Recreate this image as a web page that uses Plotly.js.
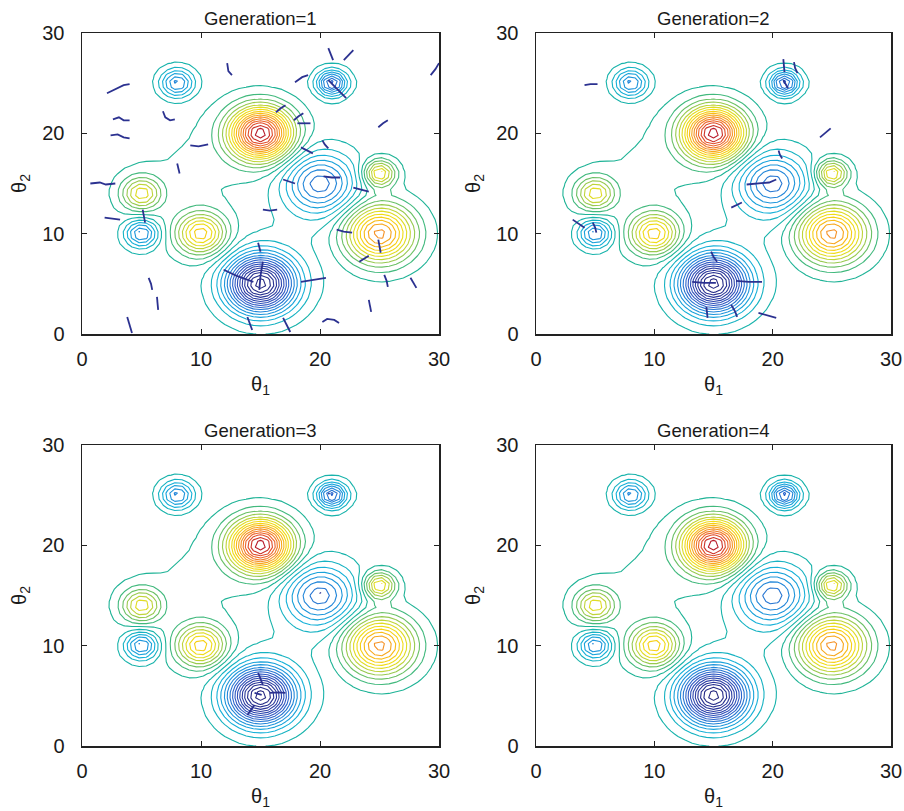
<!DOCTYPE html>
<html>
<head>
<meta charset="utf-8">
<script src="https://cdn.plot.ly/plotly-3.0.1.min.js"></script>
<style>html,body{margin:0;padding:0;background:#fff;}#chart{width:904px;height:811px;}</style>
</head>
<body>
<div id="chart"></div>
<script>
// ---- Surface: bumps (centre, height, spread) ----
const bumpX      = [15, 25, 10, 5, 25, 15, 20, 5, 8, 21, 10, 18];
const bumpY      = [20, 10, 10, 14, 16, 5, 15, 10, 25, 25, 16, 10];
const bumpHeight = [16, 11, 8, 6, 7, -16, -7, -6, -6, -8, 0.6, -0.5];
const bumpSpread = [1.75, 1.95, 1.4, 1.12, 0.9, 1.9, 2.0, 0.94, 0.95, 0.85, 5, 4];

// ---- Particle tracks per generation (theta1, theta2), null separates tracks ----
const gen1X = [2.1,2.6,3.5,4.0,null, 2.6,3.1,3.5,4.0,null, 2.4,3.0,3.5,4.0,null, 6.8,7.0,7.4,7.8,null,
  12.2,12.3,12.6,null, 9.1,9.8,10.6,null, 8.0,8.1,8.2,null, 0.7,1.5,2.0,2.8,null, 1.9,2.5,3.2,null,
  5.1,5.2,5.3,null, 5.6,5.8,5.9,null, 6.3,6.35,6.4,null, 3.8,4.0,4.2,null, 11.9,13.0,14.4,null,
  13.9,14.1,14.3,null, 15.2,15.0,14.9,null, 16.9,17.4,17.9,null, 22.8,23.4,24.1,null, 15.2,15.8,16.4,null,
  21.4,22.0,22.7,null, 24.9,25.0,25.1,null, 23.3,23.7,24.1,null, 18.4,19.5,20.5,null, 25.4,25.6,25.7,null,
  27.6,27.9,28.1,null, 24.1,24.2,24.3,null, 20.2,20.6,21.2,21.6,null, 16.9,17.2,17.5,null,
  20.7,20.9,21.1,null, 22.0,22.4,22.8,null, 29.3,29.7,30.0,null, 20.7,21.4,22.2,null, 17.9,18.5,19.0,null,
  16.3,16.7,17.1,null, 17.8,18.2,18.6,null, 18.1,18.7,19.2,null, 24.9,25.3,25.7,null, 20.2,20.4,20.7,null,
  18.4,18.9,19.4,null, 20.3,21.0,21.7,null, 14.8,14.9,15.0];
const gen1Y = [24.0,24.3,24.8,24.9,null, 21.4,21.6,21.3,21.3,null, 19.8,19.9,19.6,19.5,null, 22.2,21.6,21.3,21.4,null,
  27.0,26.2,25.8,null, 18.8,18.7,18.9,null, 17.0,16.5,16.0,null, 15.0,15.1,14.9,15.0,null, 11.6,11.5,11.4,null,
  12.4,11.7,11.1,null, 5.6,5.0,4.4,null, 3.7,3.0,2.4,null, 1.7,0.9,0.1,null, 6.4,5.8,5.2,null,
  1.7,1.0,0.4,null, 7.2,5.8,4.4,null, 15.4,15.2,15.0,null, 14.6,14.4,14.2,null, 12.4,12.3,12.4,null,
  10.4,10.2,10.1,null, 9.4,8.8,8.1,null, 7.2,7.5,7.8,null, 5.2,5.4,5.6,null, 5.9,5.3,4.7,null,
  5.6,5.0,4.6,null, 3.4,2.8,2.2,null, 1.2,1.5,1.4,1.1,null, 1.6,0.9,0.2,null,
  28.5,27.9,27.3,null, 27.3,27.8,28.3,null, 25.8,26.4,27.0,null, 25.3,24.5,23.5,null, 25.1,25.6,25.8,null,
  22.1,22.5,22.8,null, 21.3,21.7,22.0,null, 21.0,21.0,21.0,null, 20.6,21.0,21.3,null, 19.3,18.9,18.5,null,
  18.6,18.3,18.0,null, 15.7,15.6,15.6,null, 9.1,8.6,8.2];

const gen2X = [4.1,4.6,5.2,null, 3.1,3.6,4.1,null, 4.8,5.0,5.1,null, 17.8,18.8,19.7,20.3,null, 16.5,17.0,17.4,null,
  14.8,15.0,15.3,null, 13.2,14.2,15.2,null, 16.9,18.0,19.1,null, 14.4,14.45,14.5,null, 16.5,16.8,17.0,null,
  18.8,19.5,20.3,null, 20.9,20.95,21.0,null, 21.8,21.9,22.1,null, 20.9,21.1,21.3,null, 24.0,24.5,24.9,null,
  20.5,20.6,20.8];
const gen2Y = [24.8,24.9,24.9,null, 11.4,11.0,10.6,null, 11.1,10.6,10.1,null, 14.9,15.0,15.1,15.4,null, 12.6,12.9,13.1,null,
  8.2,7.7,7.2,null, 5.2,5.1,5.1,null, 5.3,5.2,5.2,null, 2.7,2.2,1.6,null, 2.9,2.3,1.7,null,
  2.1,1.9,1.6,null, 27.4,26.8,26.1,null, 27.1,26.5,26.0,null, 25.3,24.9,24.5,null, 19.6,20.1,20.5,null,
  18.3,17.9,17.5];

const gen3X = [14.8,15.0,15.2,null, 14.5,14.8,15.1,null, 15.8,16.5,17.1,null, 13.9,14.2,14.5,null, 20.0,20.05,null, 20.7,20.8];
const gen3Y = [7.3,6.7,6.1,null, 5.3,5.2,5.1,null, 5.3,5.35,5.3,null, 3.1,3.6,4.1,null, 15.3,15.2,null, 25.2,25.1];

const gen4X = [];
const gen4Y = [];

const panelTitles = ['Generation=1', 'Generation=2', 'Generation=3', 'Generation=4'];
const tickValues = [0, 10, 20, 30];

// ---- grid ----
const gridStep = 0.6;
const grid = [];
for (let v = 0; v <= 30.0001; v += gridStep) grid.push(+v.toFixed(3));
const Z = grid.map(yv => grid.map(xv => {
  let s = 0;
  for (let k = 0; k < bumpX.length; k++) {
    const dx = xv - bumpX[k], dy = yv - bumpY[k];
    s += bumpHeight[k] * Math.exp(-(dx*dx + dy*dy) / (2 * bumpSpread[k] * bumpSpread[k]));
  }
  return s;
}));

const lineScale = [
  [0.00, '#25287f'], [0.12, '#2c3aa0'], [0.24, '#2f5cc8'], [0.34, '#1f8fdc'],
  [0.42, '#15b0d8'], [0.48, '#17b3ae'], [0.52, '#1fb393'], [0.57, '#5cbd6c'],
  [0.62, '#a2cc4a'], [0.67, '#dcdc28'], [0.72, '#f5dc12'], [0.78, '#f8b818'],
  [0.85, '#f58a26'], [0.92, '#ea5a2c'], [1.00, '#b81c2c']
];

const tracksX = [gen1X, gen2X, gen3X, gen4X];
const tracksY = [gen1Y, gen2Y, gen3Y, gen4Y];

const data = [];
for (let p = 0; p < 4; p++) {
  const sfx = p === 0 ? '' : String(p + 1);
  data.push({
    type: 'contour', x: grid, y: grid, z: Z,
    xaxis: 'x' + sfx, yaxis: 'y' + sfx,
    contours: {coloring: 'lines', start: -15.5, end: 15.5, size: 1},
    line: {width: 1.1, smoothing: 0},
    colorscale: lineScale, zmin: -16, zmax: 16,
    showscale: false, hoverinfo: 'skip'
  });
  if (tracksX[p].length) {
    data.push({
      type: 'scatter', mode: 'lines', x: tracksX[p], y: tracksY[p],
      xaxis: 'x' + sfx, yaxis: 'y' + sfx,
      line: {color: '#2b3190', width: 1.8}, connectgaps: false,
      hoverinfo: 'skip', showlegend: false
    });
  }
}

const W = 904, H = 811;
const xDom = [[82/W, 439/W], [536/W, 891/W], [82/W, 439/W], [536/W, 891/W]];
const yDom = [[1-334/H, 1-33/H], [1-334/H, 1-33/H], [1-746/H, 1-445/H], [1-746/H, 1-445/H]];
const fontFam = 'Liberation Sans, Arial, Helvetica, sans-serif';

const layout = {
  width: W, height: H,
  margin: {l: 0, r: 0, t: 0, b: 0},
  paper_bgcolor: '#fff', plot_bgcolor: '#fff',
  showlegend: false,
  font: {family: fontFam, color: '#1a1a1a'},
  annotations: []
};
for (let p = 0; p < 4; p++) {
  const sfx = p === 0 ? '' : String(p + 1);
  const common = {
    range: [0, 30], tickvals: tickValues, ticktext: tickValues.map(String),
    ticks: 'inside', ticklen: 5, tickwidth: 1, tickcolor: '#222',
    showline: true, linecolor: '#222', linewidth: 1.5, mirror: 'ticks',
    showgrid: false, zeroline: false, ticklabeloverflow: 'allow',
    tickfont: {size: 20, family: fontFam, color: '#1a1a1a'}
  };
  layout['xaxis' + sfx] = Object.assign({}, common, {
    domain: xDom[p], anchor: 'y' + sfx, ticklabelstandoff: 6,
    title: {text: 'θ<sub>1</sub>', font: {size: 20, family: fontFam}, standoff: 8}
  });
  layout['yaxis' + sfx] = Object.assign({}, common, {
    domain: yDom[p], anchor: 'x' + sfx, ticklabelstandoff: 12,
    title: {text: 'θ<sub>2</sub>', font: {size: 20, family: fontFam}, standoff: 10}
  });
  layout.annotations.push({
    text: panelTitles[p], showarrow: false, xref: 'paper', yref: 'paper',
    x: (xDom[p][0] + xDom[p][1]) / 2, xanchor: 'center',
    y: yDom[p][1], yanchor: 'bottom', yshift: 2,
    font: {size: 18.5, family: fontFam, color: '#1a1a1a'}
  });
}

Plotly.newPlot('chart', data, layout, {staticPlot: true});
</script>
</body>
</html>
